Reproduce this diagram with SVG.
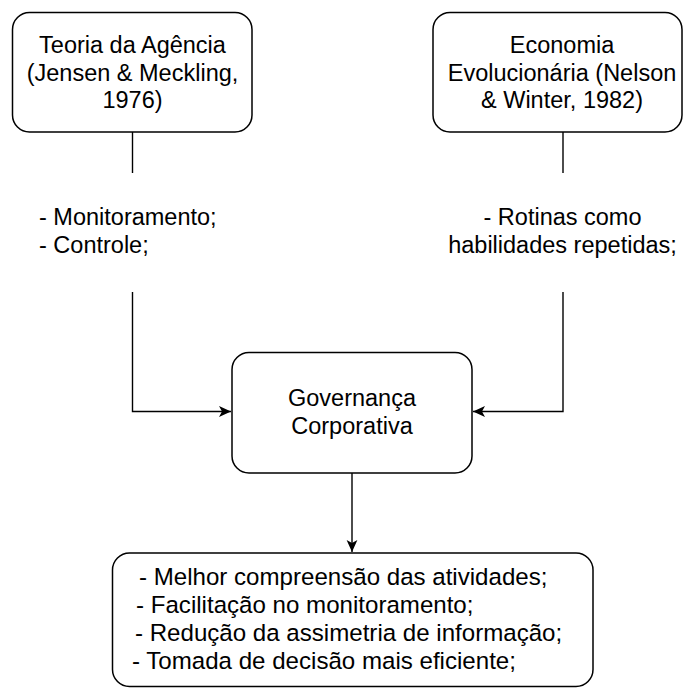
<svg xmlns="http://www.w3.org/2000/svg" width="684" height="689" viewBox="0 0 684 689">
<defs>
<style>
.box{fill:#fff;stroke:#000;stroke-width:1.5}
.edge{fill:none;stroke:#000;stroke-width:1.4}
.t{font-family:"Liberation Sans",Arial,sans-serif;font-size:23.5px;fill:#000}
.b{font-size:24.1px}
.c{text-anchor:middle}
</style>
<marker id="ah" viewBox="0 0 10 10" refX="10" refY="5" markerWidth="12" markerHeight="12" markerUnits="userSpaceOnUse" orient="auto">
<path d="M0,0.5 L10,5 L0,9.5 L2.5,5 Z" fill="#000"/>
</marker>
</defs>
<rect width="684" height="689" fill="#fff"/>
<g id="connectors">
<path class="edge" d="M132.5,132 V173"/>
<path class="edge" d="M132.5,292 V411.5 H231" marker-end="url(#ah)"/>
<path class="edge" d="M563,132 V173"/>
<path class="edge" d="M563,292 V411.5 H473" marker-end="url(#ah)"/>
<path class="edge" d="M352,473 V552" marker-end="url(#ah)"/>
</g>
<g id="teoria">
<rect class="box" x="12.5" y="12.5" width="239.5" height="119.5" rx="17"/>
<text class="t c" x="132.5" y="53">Teoria da Agência</text>
<text class="t c" x="132.5" y="80.5">(Jensen &amp; Meckling,</text>
<text class="t c" x="132.5" y="108">1976)</text>
</g>
<g id="economia">
<rect class="box" x="433" y="12.5" width="249" height="119.5" rx="17"/>
<text class="t c" x="562" y="53">Economia</text>
<text class="t c" x="562" y="80.5">Evolucionária (Nelson</text>
<text class="t c" x="562" y="108">&amp; Winter, 1982)</text>
</g>
<g id="label-left">
<text class="t" x="39" y="225">- Monitoramento;</text>
<text class="t" x="39" y="253">- Controle;</text>
</g>
<g id="label-right">
<text class="t c" x="562.5" y="225">- Rotinas como</text>
<text class="t c" x="562.5" y="253">habilidades repetidas;</text>
</g>
<g id="governanca">
<rect class="box" x="232" y="352.5" width="240" height="120.5" rx="17"/>
<text class="t c" x="352" y="406">Governança</text>
<text class="t c" x="352" y="434">Corporativa</text>
</g>
<g id="resultados">
<rect class="box" x="112.5" y="553" width="480.5" height="133.5" rx="17"/>
<text class="t b" x="139" y="585">- Melhor compreensão das atividades;</text>
<text class="t b" x="136" y="613">- Facilitação no monitoramento;</text>
<text class="t b" x="135" y="641">- Redução da assimetria de informação;</text>
<text class="t b" x="132" y="669">- Tomada de decisão mais eficiente;</text>
</g>
</svg>
